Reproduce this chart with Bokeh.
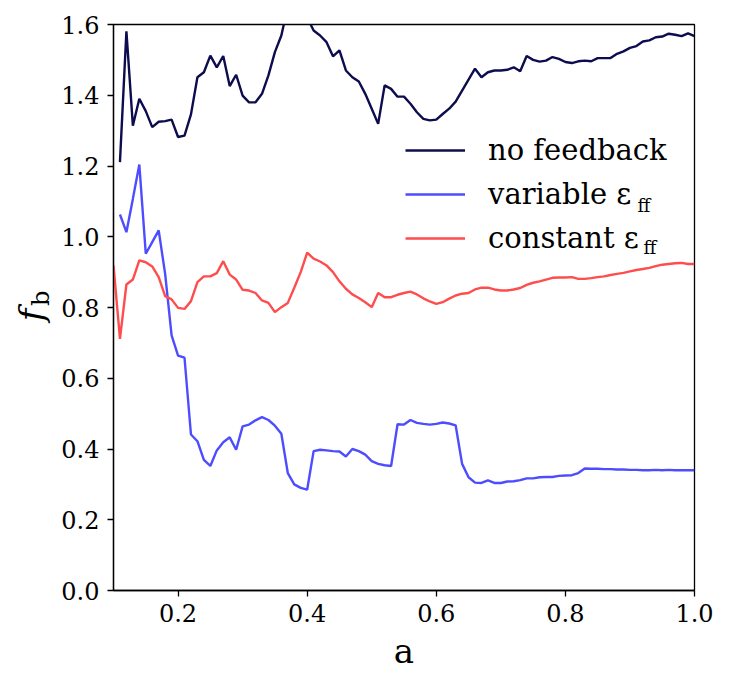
import math

from bokeh.core.properties import value
from bokeh.embed import file_html
from bokeh.layouts import row
from bokeh.models import (FixedTicker, Label, Legend, LegendItem,
                          PrintfTickFormatter, Range1d)
from bokeh.plotting import figure
from bokeh.resources import INLINE

# --- data -----------------------------------------------------------------
a_values = [round(0.11 + 0.01 * i, 2) for i in range(90)]          # 0.11 .. 1.00
a_values_const = [0.10] + a_values                                 # 0.10 .. 1.00

fb_no_feedback = [
    1.211, 1.581, 1.314, 1.390, 1.355, 1.310, 1.325, 1.327, 1.331, 1.282,
    1.286, 1.346, 1.451, 1.465, 1.512, 1.479, 1.511, 1.426, 1.458, 1.399,
    1.380, 1.380, 1.404, 1.456, 1.522, 1.569, 1.650, 1.680, 1.670, 1.620,
    1.583, 1.569, 1.550, 1.510, 1.527, 1.470, 1.451, 1.439, 1.404, 1.362,
    1.319, 1.428, 1.418, 1.396, 1.396, 1.376, 1.352, 1.333, 1.329, 1.331,
    1.347, 1.362, 1.382, 1.413, 1.444, 1.475, 1.451, 1.465, 1.470, 1.470,
    1.472, 1.479, 1.468, 1.511, 1.500, 1.495, 1.498, 1.508, 1.503, 1.494,
    1.491, 1.496, 1.498, 1.496, 1.505, 1.505, 1.505, 1.517, 1.524, 1.534,
    1.539, 1.552, 1.555, 1.564, 1.566, 1.574, 1.571, 1.567, 1.575, 1.567,
]

fb_variable = [
    1.063, 1.013, 1.107, 1.204, 0.952, 0.985, 1.018, 0.895, 0.721, 0.664,
    0.658, 0.441, 0.422, 0.369, 0.352, 0.396, 0.419, 0.433, 0.398, 0.464,
    0.469, 0.481, 0.490, 0.482, 0.466, 0.443, 0.332, 0.300, 0.290, 0.285,
    0.394, 0.398, 0.396, 0.394, 0.393, 0.379, 0.400, 0.394, 0.384, 0.366,
    0.358, 0.354, 0.352, 0.470, 0.469, 0.482, 0.474, 0.471, 0.469, 0.471,
    0.475, 0.472, 0.467, 0.358, 0.320, 0.305, 0.304, 0.311, 0.304, 0.304,
    0.308, 0.309, 0.312, 0.317, 0.317, 0.320, 0.321, 0.321, 0.324, 0.325,
    0.326, 0.332, 0.345, 0.344, 0.344, 0.343, 0.343, 0.342, 0.342, 0.341,
    0.341, 0.340, 0.340, 0.341, 0.340, 0.341, 0.340, 0.340, 0.340, 0.340,
]

fb_constant = [
    0.919,
    0.711, 0.865, 0.879, 0.933, 0.928, 0.916, 0.886, 0.832, 0.823, 0.799,
    0.796, 0.818, 0.872, 0.888, 0.888, 0.897, 0.931, 0.893, 0.879, 0.850,
    0.848, 0.841, 0.820, 0.813, 0.787, 0.801, 0.813, 0.856, 0.900, 0.955,
    0.938, 0.930, 0.919, 0.900, 0.874, 0.853, 0.837, 0.827, 0.815, 0.801,
    0.841, 0.829, 0.829, 0.836, 0.841, 0.845, 0.837, 0.826, 0.817, 0.810,
    0.815, 0.825, 0.834, 0.839, 0.841, 0.851, 0.856, 0.856, 0.851, 0.848,
    0.848, 0.851, 0.855, 0.864, 0.870, 0.874, 0.879, 0.884, 0.885, 0.885,
    0.886, 0.881, 0.881, 0.883, 0.886, 0.888, 0.892, 0.895, 0.898, 0.902,
    0.906, 0.909, 0.912, 0.917, 0.921, 0.923, 0.925, 0.926, 0.923, 0.923,
]

series_labels = ["no feedback", "variable \u03b5", "constant \u03b5"]
x_ticks = [0.2, 0.4, 0.6, 0.8, 1.0]
y_ticks = [0.0, 0.2, 0.4, 0.6, 0.8, 1.0, 1.2, 1.4, 1.6]

# --- styling ----------------------------------------------------------------
SERIF = "DejaVu Serif"
NAVY = "#0c0c4e"
BLUE = "#4d4dff"
RED = "#ff4d4d"
LW = 2.4
STRIP_W = 58              # width of the strip that carries the y-axis title
HEIGHT = 686
FRAME_LEFT = 113          # x of the left spine on the page

# narrow strip on the left holding the rotated y-axis title  f_b
strip = figure(
    width=STRIP_W, height=HEIGHT,
    x_range=Range1d(0, STRIP_W), y_range=Range1d(0, HEIGHT),
    output_backend="svg", toolbar_location=None,
    x_axis_location=None, y_axis_location=None,
    min_border=0, outline_line_color=None,
    background_fill_color="white", border_fill_color="white",
)
strip.grid.visible = False
strip.text(x=[30], y=[HEIGHT - 352], text=["f"], angle=math.pi / 2,
           text_font=value(SERIF), text_font_style="italic",
           text_font_size="34px", text_align="center",
           text_baseline="middle", text_color="black")
strip.text(x=[40], y=[HEIGHT - 332], text=["b"], angle=math.pi / 2,
           text_font=value(SERIF), text_font_size="24px",
           text_align="center", text_baseline="middle",
           text_color="black")

p = figure(
    width=730 - STRIP_W, height=HEIGHT,
    x_range=Range1d(0.1, 1.0), y_range=Range1d(0.0, 1.6),
    output_backend="svg", toolbar_location=None,
    min_border_left=FRAME_LEFT - STRIP_W, min_border_right=36,
    min_border_top=24, min_border_bottom=96,
    background_fill_color="white", border_fill_color="white",
)
p.grid.visible = False
p.outline_line_color = "black"
p.outline_line_width = 1.3

r_nf = p.line(a_values, fb_no_feedback, line_color=NAVY, line_width=LW)
r_var = p.line(a_values, fb_variable, line_color=BLUE, line_width=LW)
r_con = p.line(a_values_const, fb_constant, line_color=RED, line_width=LW)

for ax in (p.xaxis[0], p.yaxis[0]):
    ax.axis_line_color = "black"
    ax.axis_line_width = 1.3
    ax.major_tick_line_color = "black"
    ax.major_tick_line_width = 1.3
    ax.major_tick_out = 6
    ax.major_tick_in = 0
    ax.minor_tick_line_color = None
    ax.major_label_text_font = SERIF
    ax.major_label_text_font_size = "24px"
    ax.major_label_text_color = "black"
    ax.formatter = PrintfTickFormatter(format="%.1f")

p.xaxis[0].ticker = FixedTicker(ticks=x_ticks)
p.yaxis[0].ticker = FixedTicker(ticks=y_ticks)
p.xaxis[0].major_label_standoff = 7
p.yaxis[0].major_label_standoff = 8

p.xaxis[0].axis_label = "a"
p.xaxis[0].axis_label_text_font = SERIF
p.xaxis[0].axis_label_text_font_size = "34px"
p.xaxis[0].axis_label_text_font_style = "normal"
p.xaxis[0].axis_label_text_color = "black"
p.xaxis[0].axis_label_standoff = 6

legend = Legend(
    items=[LegendItem(label=series_labels[0], renderers=[r_nf]),
           LegendItem(label=series_labels[1], renderers=[r_var]),
           LegendItem(label=series_labels[2], renderers=[r_con])],
    location=(292, 330),
    orientation="vertical",
    border_line_color=None,
    background_fill_alpha=0.0,
    padding=0, margin=0, spacing=0,
    glyph_width=60, glyph_height=44, label_height=44,
    label_standoff=23,
    label_text_font=SERIF,
    label_text_font_size="29px",
    label_text_color="black",
)
p.add_layout(legend)

# subscripts "ff" after the epsilon in the legend entries
for sx, sy in ((524, 385), (530, 343)):
    p.add_layout(Label(x=sx, y=sy, x_units="screen", y_units="screen",
                       text="ff", text_font=SERIF, text_font_size="18px",
                       text_baseline="alphabetic", text_color="black"))

layout = row(strip, p, spacing=0)
open("out.html", "w").write(file_html(layout, INLINE))
